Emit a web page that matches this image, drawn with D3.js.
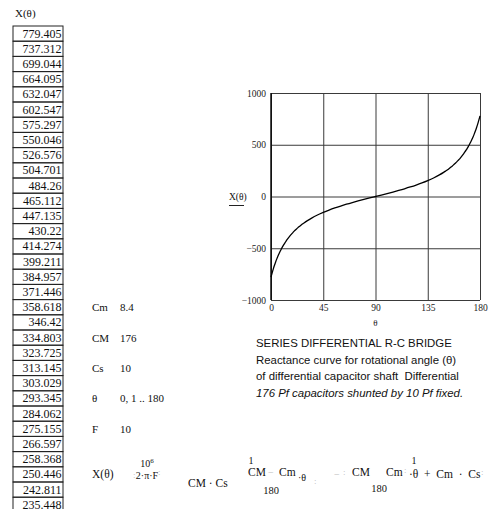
<!DOCTYPE html>
<html>
<head>
<meta charset="utf-8">
<script src="https://cdn.jsdelivr.net/npm/d3@7/dist/d3.min.js"></script>
<style>
  html, body { margin: 0; padding: 0; background: #fff; }
  svg { display: block; }
  text { white-space: pre; }
  .serif { font-family: "Liberation Serif", "Times New Roman", serif; fill: #111; }
  .sans { font-family: "Liberation Sans", Arial, sans-serif; fill: #111; }
  .faint { fill: #b8b8b8; }
</style>
</head>
<body>
<svg id="chart" width="492" height="509"></svg>
<script>
// X(θ) for θ = 0 … 31, as listed in the value table (magnitudes; the curve is negative there)
const tableValues = [
  779.405, 737.312, 699.044, 664.095, 632.047, 602.547, 575.297, 550.046,
  526.576, 504.701, 484.26, 465.112, 447.135, 430.22, 414.274, 399.211,
  384.957, 371.446, 358.618, 346.42, 334.803, 323.725, 313.145, 303.029,
  293.345, 284.062, 275.155, 266.597, 258.368, 250.446, 242.811, 235.448
];

// Middle section of the reactance curve
const midTheta = [35, 40, 45, 50, 55, 60, 65, 70, 75, 80, 85, 90,
                  95, 100, 105, 110, 115, 120, 125, 130, 135, 140, 145];
const midX = [-208.4, -179.0, -153.5, -130.9, -110.5, -92.0, -74.8, -58.7, -43.4, -28.6, -14.2, 0,
              14.2, 28.6, 43.4, 58.7, 74.8, 92.0, 110.5, 130.9, 153.5, 179.0, 208.4];

// Axis ticks
const xTicks = [0, 45, 90, 135, 180];
const yTicks = [-1000, -500, 0, 500, 1000];

// Constants of the bridge
const constants = [
  { name: "Cm", value: "8.4" },
  { name: "CM", value: "176" },
  { name: "Cs", value: "10" },
  { name: "θ", value: "0, 1 .. 180" },
  { name: "F", value: "10" }
];

const captionLines = [
  "SERIES DIFFERENTIAL R-C BRIDGE",
  "Reactance curve for rotational angle (θ)",
  "of differential capacitor shaft  Differential",
  "176 Pf capacitors shunted by 10 Pf fixed."
];

// Curve points: table values at the low end, mirrored (X(180−θ) = −X(θ)) at the high end
const n = tableValues.length;
const curve = [];
tableValues.forEach((v, i) => curve.push({ t: i, x: -v }));
midTheta.forEach((t, i) => curve.push({ t, x: midX[i] }));
for (let i = n - 1; i >= 0; i--) curve.push({ t: 180 - i, x: tableValues[i] });

const svg = d3.select("#chart");

// ---------- value table ----------
const rowTop = 26, rowH = 15.2, tabX = 13, tabW = 50;
svg.append("text").attr("class", "serif")
  .attr("x", 15).attr("y", 17).attr("font-size", 11)
  .text("X(θ)");

const rows = svg.append("g").selectAll("g").data(tableValues).join("g")
  .attr("transform", (d, i) => `translate(${tabX},${rowTop + i * rowH})`);
rows.append("rect")
  .attr("width", tabW).attr("height", rowH)
  .attr("fill", "none").attr("stroke", "#222").attr("stroke-width", 1);
rows.append("text").attr("class", "serif")
  .attr("x", tabW - 1.5).attr("y", 11.6)
  .attr("text-anchor", "end").attr("font-size", 12)
  .text(d => String(d));

// ---------- constants ----------
const constRows = [18, 20, 22, 24, 26];
const cg = svg.append("g").selectAll("g").data(constants).join("g")
  .attr("transform", (d, i) => `translate(92,${rowTop + constRows[i] * rowH + rowH / 2 + 4})`);
cg.append("text").attr("class", "serif").attr("font-size", 11).text(d => d.name);
cg.append("text").attr("class", "serif").attr("font-size", 11).attr("x", 28).text(d => d.value);

// ---------- formula ----------
const fy = rowTop + 29 * rowH + rowH / 2 + 4;   // main line baseline
const fg = svg.append("g").attr("class", "serif").attr("font-size", 11.5);
function ft(x, y, s, anchor, size, cls) {
  const t = fg.append("text").attr("x", x).attr("y", y).text(s);
  if (anchor) t.attr("text-anchor", anchor);
  if (size) t.attr("font-size", size);
  if (cls) t.attr("class", cls);
  return t;
}
ft(92, fy, "X(θ)");
const ten = ft(147, fy - 11, "10", "middle", 10);
ten.append("tspan").attr("dy", -4).attr("font-size", 7).text("6");
ft(147, fy + 1, "2·π·F", "middle", 10);
ft(133, fy, ":", null, 9, "faint");
ft(158, fy - 3, ":", null, 9, "faint");
ft(188, fy + 9, "CM · Cs");
ft(251, fy - 14, "1", "middle", 10);
ft(248, fy - 2, "CM");
ft(268, fy - 2, "−", null, 10, "faint");
ft(279, fy - 2, "Cm");
ft(271, fy + 16, "180", "middle", 10.5);
ft(298, fy + 3, "·θ", null, 10);
ft(314, fy + 6, ":", null, 9, "faint");
ft(334, fy, "−", null, 10, "faint");
ft(343, fy - 3, ":", null, 9, "faint");
ft(352, fy - 2, "CM");
ft(386, fy - 2, "Cm");
ft(379, fy + 14, "180", "middle", 10.5);
ft(404, fy - 5, ":", null, 9, "faint");
ft(414, fy - 14, "1", "middle", 10);
ft(409, fy, "·θ  +  Cm  ·  Cs");
ft(481, fy - 3, ":", null, 9, "faint");

// ---------- plot ----------
const plot = { left: 271, right: 480, top: 93, bottom: 300 };
const x = d3.scaleLinear().domain([0, 180]).range([plot.left, plot.right]);
const y = d3.scaleLinear().domain([-1000, 1000]).range([plot.bottom, plot.top]);

const fmt = d => (d < 0 ? "−" + Math.abs(d) : String(d));

const gy = svg.append("g")
  .attr("transform", `translate(${plot.left},0)`)
  .call(d3.axisLeft(y).tickValues(yTicks).tickFormat(fmt)
    .tickSizeInner(-(plot.right - plot.left)).tickSizeOuter(0).tickPadding(5));
gy.select(".domain").remove();
gy.selectAll(".tick line").attr("stroke", "#3a3a3a").attr("stroke-width", 1);
gy.selectAll(".tick text")
  .attr("font-family", "Liberation Serif, serif").attr("font-size", 9.5).attr("fill", "#222");

const gx = svg.append("g")
  .attr("transform", `translate(0,${plot.bottom})`)
  .call(d3.axisBottom(x).tickValues(xTicks).tickFormat(fmt)
    .tickSizeInner(-(plot.bottom - plot.top)).tickSizeOuter(0).tickPadding(4));
gx.select(".domain").remove();
gx.selectAll(".tick line").attr("stroke", "#3a3a3a").attr("stroke-width", 1);
gx.selectAll(".tick text")
  .attr("font-family", "Liberation Serif, serif").attr("font-size", 9.5).attr("fill", "#222");

// left axis line drawn heavier
svg.append("line")
  .attr("x1", x(0)).attr("x2", x(0)).attr("y1", y(-1000)).attr("y2", y(1000))
  .attr("stroke", "#000").attr("stroke-width", 1.4);

// axis titles
svg.append("text").attr("class", "serif")
  .attr("x", x(90)).attr("y", 326).attr("text-anchor", "middle").attr("font-size", 9)
  .text("θ");
svg.append("text").attr("class", "serif")
  .attr("x", 229).attr("y", 200).attr("font-size", 9.5)
  .text("X(θ)");
svg.append("line")
  .attr("x1", 229).attr("x2", 244).attr("y1", 205.5).attr("y2", 205.5)
  .attr("stroke", "#222").attr("stroke-width", 1);

// reactance curve
svg.append("path")
  .datum(curve)
  .attr("fill", "none").attr("stroke", "#000").attr("stroke-width", 1.3)
  .attr("d", d3.line().x(d => x(d.t)).y(d => y(d.x)).curve(d3.curveMonotoneX));

// ---------- caption ----------
const capY = [347, 363.5, 380, 396.5];
svg.append("g").selectAll("text").data(captionLines).join("text")
  .attr("class", "sans")
  .attr("x", 256).attr("y", (d, i) => capY[i])
  .attr("font-size", 11.4)
  .attr("font-style", (d, i) => (i === 3 ? "italic" : "normal"))
  .text(d => d);
</script>
</body>
</html>
